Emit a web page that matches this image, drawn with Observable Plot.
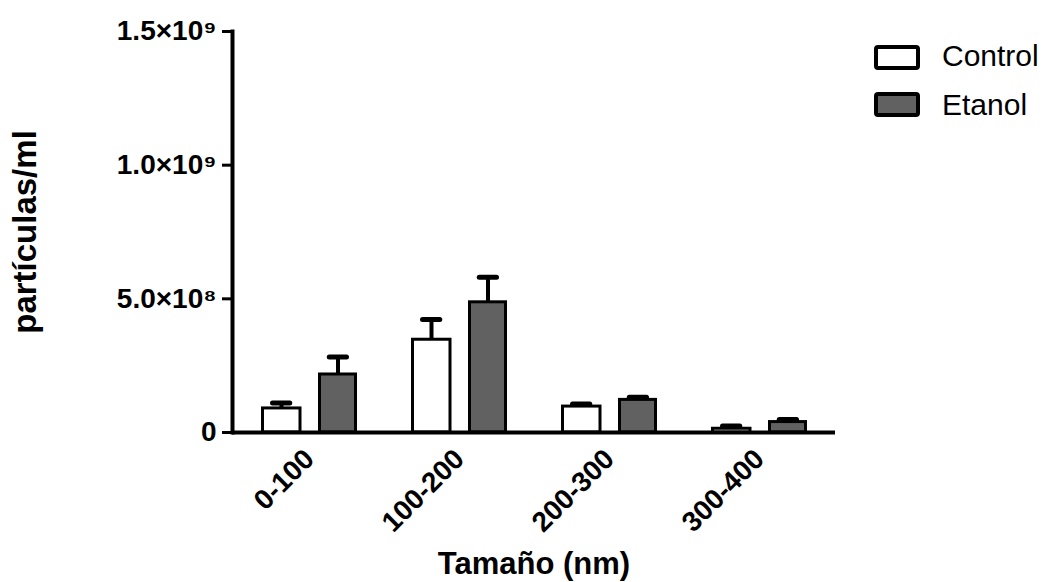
<!DOCTYPE html>
<html>
<head>
<meta charset="utf-8">
<script src="https://cdn.jsdelivr.net/npm/d3@7"></script>
<script src="https://cdn.jsdelivr.net/npm/@observablehq/plot@0.6"></script>
<style>
  body { margin: 0; background: #fff; }
  #wrap { position: relative; width: 1049px; height: 582px; font-family: "Liberation Sans", Arial, sans-serif; }
  #chart svg { display: block; }
  g[aria-label="y-axis label"] text { font-size: 33px; }
  g[aria-label="x-axis label"] text { font-size: 31px; }
  .lg-box { position: absolute; left: 874px; width: 46px; height: 25px; box-sizing: border-box; border: 4px solid #000; border-radius: 4px; }
  .lg-text { position: absolute; left: 942px; font-size: 30px; line-height: 30px; color: #000; white-space: nowrap; }
</style>
</head>
<body>
<div id="wrap">
  <div id="chart"></div>
  <div id="legend"></div>
</div>
<script>
// ---- data ----
const groups = ["0-100", "100-200", "200-300", "300-400"];
const controlMean = [9.0e7, 3.47e8, 9.7e7, 1.4e7];
const controlSEM  = [2.0e7, 7.6e7, 1.0e7, 1.0e7];
const etanolMean  = [2.17e8, 4.87e8, 1.22e8, 3.9e7];
const etanolSEM   = [6.5e7, 9.4e7, 1.0e7, 1.0e7];
const seriesNames = ["Control", "Etanol"];
const seriesFill  = ["#ffffff", "#616161"];
const yTicks      = [0, 5e8, 1e9, 1.5e9];
const yTickLabels = ["0", "5.0×10⁸", "1.0×10⁹", "1.5×10⁹"];
const xTitle = "Tamaño (nm)";
const yTitle = "partículas/ml";

const control = groups.map((g, i) => ({group: g, mean: controlMean[i], hi: controlMean[i] + controlSEM[i]}));
const etanol  = groups.map((g, i) => ({group: g, mean: etanolMean[i],  hi: etanolMean[i] + etanolSEM[i]}));

const chart = Plot.plot({
  width: 1049,
  height: 582,
  marginLeft: 232,
  marginRight: 214,
  marginTop: 31,
  marginBottom: 150,
  style: {fontFamily: "'Liberation Sans', Arial, sans-serif", fontSize: "28px", fontWeight: "bold", color: "#000", background: "#fff", overflow: "visible"},
  x: {domain: groups, padding: 0},
  y: {domain: [0, 1.5e9]},
  marks: [
    Plot.ruleX(control, {x: "group", y1: "mean", y2: "hi", dx: -28, stroke: "#000", strokeWidth: 4}),
    Plot.ruleX(etanol,  {x: "group", y1: "mean", y2: "hi", dx: 28.5, stroke: "#000", strokeWidth: 4}),
    Plot.tickY(control, {x: "group", y: "hi", insetLeft: 38.5, insetRight: 94.25, stroke: "#000", strokeWidth: 5, strokeLinecap: "round"}),
    Plot.tickY(etanol,  {x: "group", y: "hi", insetLeft: 95.25, insetRight: 37.5, stroke: "#000", strokeWidth: 5, strokeLinecap: "round"}),
    Plot.barY(control, {x: "group", y: "mean", fill: seriesFill[0], stroke: "#000", strokeWidth: 3, insetLeft: 28.5, insetRight: 84}),
    Plot.barY(etanol,  {x: "group", y: "mean", fill: seriesFill[1], stroke: "#000", strokeWidth: 3, insetLeft: 85.5, insetRight: 28.5}),
    Plot.ruleY([0], {stroke: "#000", strokeWidth: 4}),
    Plot.frame({anchor: "left", stroke: "#000", strokeWidth: 4}),
    Plot.axisY({ticks: yTicks, tickFormat: d => yTickLabels[yTicks.indexOf(d)], tickSize: 10, tickPadding: 6, strokeWidth: 3, label: yTitle, labelAnchor: "center", labelOffset: 220, labelArrow: "none"}),
    Plot.axisX({tickRotate: -45, tickSize: 0, tickPadding: 22, label: xTitle, labelAnchor: "center", labelOffset: 141, labelArrow: "none"})
  ]
});
document.getElementById("chart").appendChild(chart);

// legend
const legend = document.getElementById("legend");
const boxTops = [45, 92];
const textTops = [40.6, 89.6];
seriesNames.forEach((name, i) => {
  const b = document.createElement("div");
  b.className = "lg-box";
  b.style.top = boxTops[i] + "px";
  b.style.background = seriesFill[i];
  legend.appendChild(b);
  const t = document.createElement("div");
  t.className = "lg-text";
  t.style.top = textTops[i] + "px";
  t.textContent = name;
  legend.appendChild(t);
});
</script>
</body>
</html>
